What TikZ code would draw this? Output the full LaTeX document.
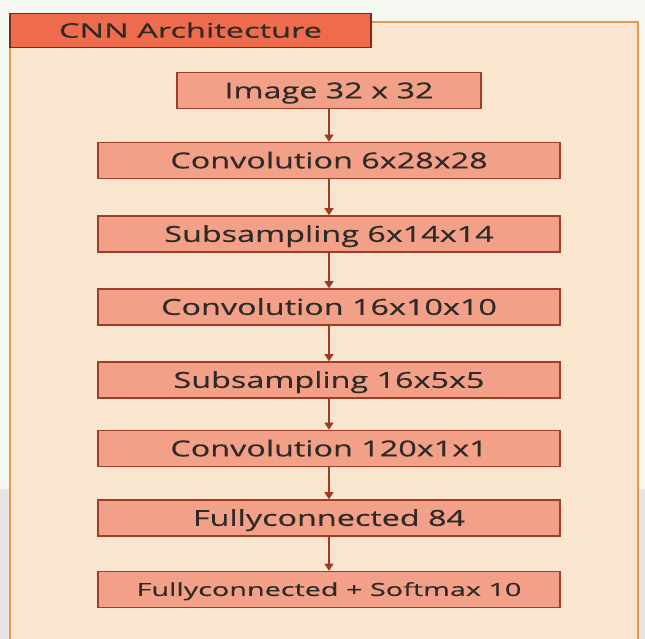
\documentclass[tikz,border=0pt]{standalone}
\usepackage{fontspec}
\setmainfont{Open Sans}
\newfontfamily\widefont[FakeStretch=1.47, FakeBold=0.5]{Open Sans}
\newfontfamily\tabfont[FakeStretch=1.63, FakeBold=0.5]{Open Sans}
\newfontfamily\smallwidefont[FakeStretch=1.6, FakeBold=0.5]{Open Sans}
\usetikzlibrary{arrows.meta}
\definecolor{pagebg}{HTML}{F6F8F2}
\definecolor{lowbg}{HTML}{E6E6E6}
\definecolor{panelfill}{HTML}{FAE5CF}
\definecolor{paneledge}{HTML}{E8994A}
\definecolor{tabfill}{HTML}{EE6C4D}
\definecolor{tabedge}{HTML}{7E2A1C}
\definecolor{layerfill}{HTML}{F2A088}
\definecolor{layeredge}{HTML}{A03C28}
\definecolor{linkcol}{HTML}{A03A22}
\definecolor{txt}{HTML}{2E2A28}
\tikzset{
  x=1pt, y=-1pt,
  layer/.style={draw=layeredge, line width=1.6pt, fill=layerfill, minimum height=36pt,
    inner sep=0pt, text=txt, text height=15.7pt, text depth=0pt,
    font=\widefont\fontsize{22}{26}\selectfont},
  link/.style={draw=linkcol, line width=1.4pt, -{Triangle[length=7pt,width=9pt]}},
}
\begin{document}
\begin{tikzpicture}
\useasboundingbox (0,0) rectangle (645,639);
% page background
\fill[pagebg] (0,0) rectangle (645,639);
\fill[lowbg] (0,489) rectangle (645,639);
% panel
\draw[paneledge, fill=panelfill, line width=1.2pt] (10,639.5) -- (10,22) -- (638,22) -- (638,639.5);
% title tab
\node[draw=tabedge, line width=1.4pt, fill=tabfill, minimum width=361pt, minimum height=34pt,
  inner sep=0pt, text=txt, text height=14.3pt, text depth=0pt,
  font=\tabfont\fontsize{20}{24}\selectfont] (title) at (190.5,30.5) {CNN Architecture};
% layers
\node[layer, minimum width=304pt] (l1) at (329,90.5) {Image 32 x 32};
\node[layer, minimum width=462pt] (l2) at (329,160.5) {Convolution 6x28x28};
\node[layer, minimum width=462pt] (l3) at (329,234) {Subsampling 6x14x14};
\node[layer, minimum width=462pt] (l4) at (329,307) {Convolution 16x10x10};
\node[layer, minimum width=462pt] (l5) at (329,380) {Subsampling 16x5x5};
\node[layer, minimum width=462pt] (l6) at (329,448.5) {Convolution 120x1x1};
\node[layer, minimum width=462pt] (l7) at (329,518) {Fullyconnected 84};
\node[layer, minimum width=462pt, text height=12.9pt,
  font=\smallwidefont\fontsize{18}{22}\selectfont] (l8) at (329,589.5) {Fullyconnected + Softmax 10};
% connectors
\foreach \a/\b in {l1/l2,l2/l3,l3/l4,l4/l5,l5/l6,l6/l7,l7/l8}
  \draw[link] (\a.south) -- (\b.north);
\end{tikzpicture}
\end{document}
